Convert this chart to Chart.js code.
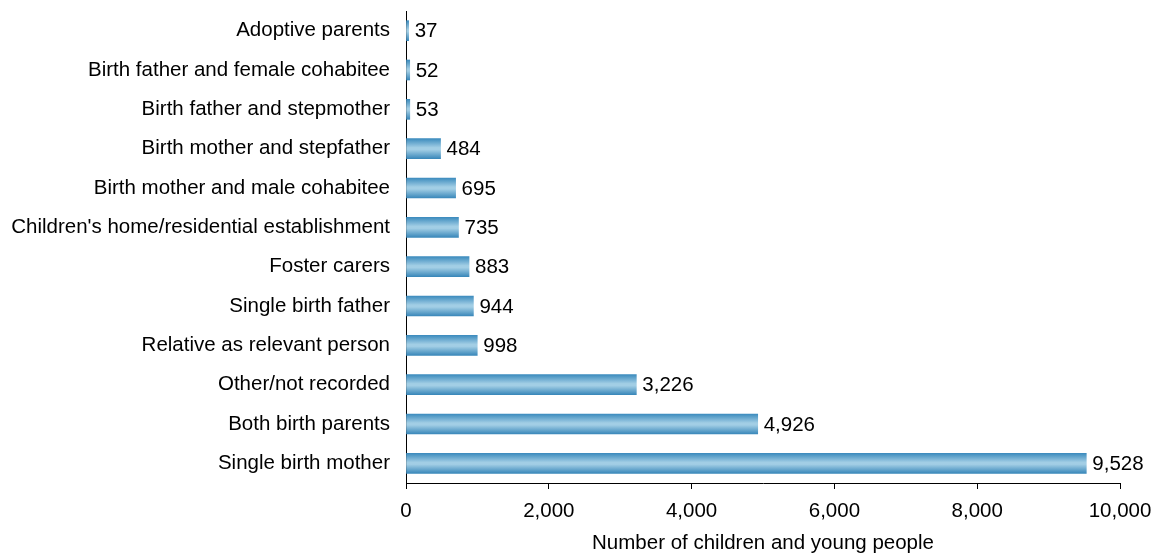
<!DOCTYPE html>
<html lang="en">
<head>
  <meta charset="UTF-8" />
  <title>Children by relevant person</title>
  <style>
    html, body { margin: 0; padding: 0; background: #fff; }
    #wrap { width: 1160px; height: 554px; }
  </style>
</head>
<body>
  <div id="wrap"><canvas id="chart" width="1160" height="554"></canvas></div>

  <script src="https://cdn.jsdelivr.net/npm/chart.js"></script>
  <script>
    // categories, top to bottom
    const categories = [
      "Adoptive parents",
      "Birth father and female cohabitee",
      "Birth father and stepmother",
      "Birth mother and stepfather",
      "Birth mother and male cohabitee",
      "Children's home/residential establishment",
      "Foster carers",
      "Single birth father",
      "Relative as relevant person",
      "Other/not recorded",
      "Both birth parents",
      "Single birth mother"
    ];
    const counts = [37, 52, 53, 484, 695, 735, 883, 944, 998, 3226, 4926, 9528];
    const xTicks = [0, 2000, 4000, 6000, 8000, 10000];

    const FONT = "'Liberation Sans', Arial, sans-serif";
    const FS = 20.5;
    const BAR = 20;

    // shaded bar: dark edges, light centre
    function barFill(ctx) {
      const chart = ctx.chart;
      const y = chart.scales.y;
      if (!y || ctx.dataIndex === undefined) return "#6aaed4";
      const c = y.getPixelForValue(ctx.dataIndex);
      if (!isFinite(c)) return "#6aaed4";
      const g = chart.ctx.createLinearGradient(0, c - BAR / 2, 0, c + BAR / 2);
      g.addColorStop(0, "#3d8cbe");
      g.addColorStop(0.45, "#a2cee5");
      g.addColorStop(0.55, "#a2cee5");
      g.addColorStop(1, "#3a88ba");
      return g;
    }

    // value labels at the end of each bar
    const valueLabels = {
      id: "valueLabels",
      afterDatasetsDraw(chart) {
        const ctx = chart.ctx;
        const meta = chart.getDatasetMeta(0);
        ctx.save();
        ctx.font = FS + "px " + FONT;
        ctx.fillStyle = "#000";
        ctx.textAlign = "left";
        ctx.textBaseline = "middle";
        meta.data.forEach((bar, i) => {
          ctx.fillText(counts[i].toLocaleString("en-US"), bar.x + 6, bar.y + 1);
        });
        ctx.restore();
      }
    };

    new Chart(document.getElementById("chart"), {
      type: "bar",
      data: {
        labels: categories,
        datasets: [{
          data: counts,
          backgroundColor: barFill,
          borderWidth: 0,
          barThickness: BAR
        }]
      },
      options: {
        indexAxis: "y",
        responsive: false,
        animation: false,
        layout: { padding: { top: 11, right: 40, left: 0, bottom: 0 } },
        plugins: {
          legend: { display: false },
          tooltip: { enabled: false }
        },
        scales: {
          x: {
            min: 0,
            max: 10000,
            afterBuildTicks: s => { s.ticks = xTicks.map(v => ({ value: v })); },
            afterFit: s => { s.height = 71; s.paddingLeft = 0; s.paddingRight = 0; },
            grid: {
              drawOnChartArea: false,
              drawTicks: true,
              tickLength: 6,
              color: "#000"
            },
            border: { display: true, color: "#000", width: 1 },
            ticks: {
              color: "#000",
              font: { family: FONT, size: FS },
              padding: 10,
              maxRotation: 0,
              callback: v => v.toLocaleString("en-US")
            },
            title: {
              display: true,
              text: "Number of children and young people",
              color: "#000",
              font: { family: FONT, size: FS, lineHeight: 1 },
              padding: { top: 7, bottom: 0 }
            }
          },
          y: {
            afterFit: s => { s.width = 406; s.paddingTop = 0; s.paddingBottom = 0; },
            grid: { display: true, drawOnChartArea: false, drawTicks: false },
            border: { display: true, color: "#000", width: 1 },
            ticks: {
              color: "#000",
              font: { family: FONT, size: FS },
              padding: 16
            }
          }
        }
      },
      plugins: [valueLabels]
    });
  </script>
</body>
</html>
